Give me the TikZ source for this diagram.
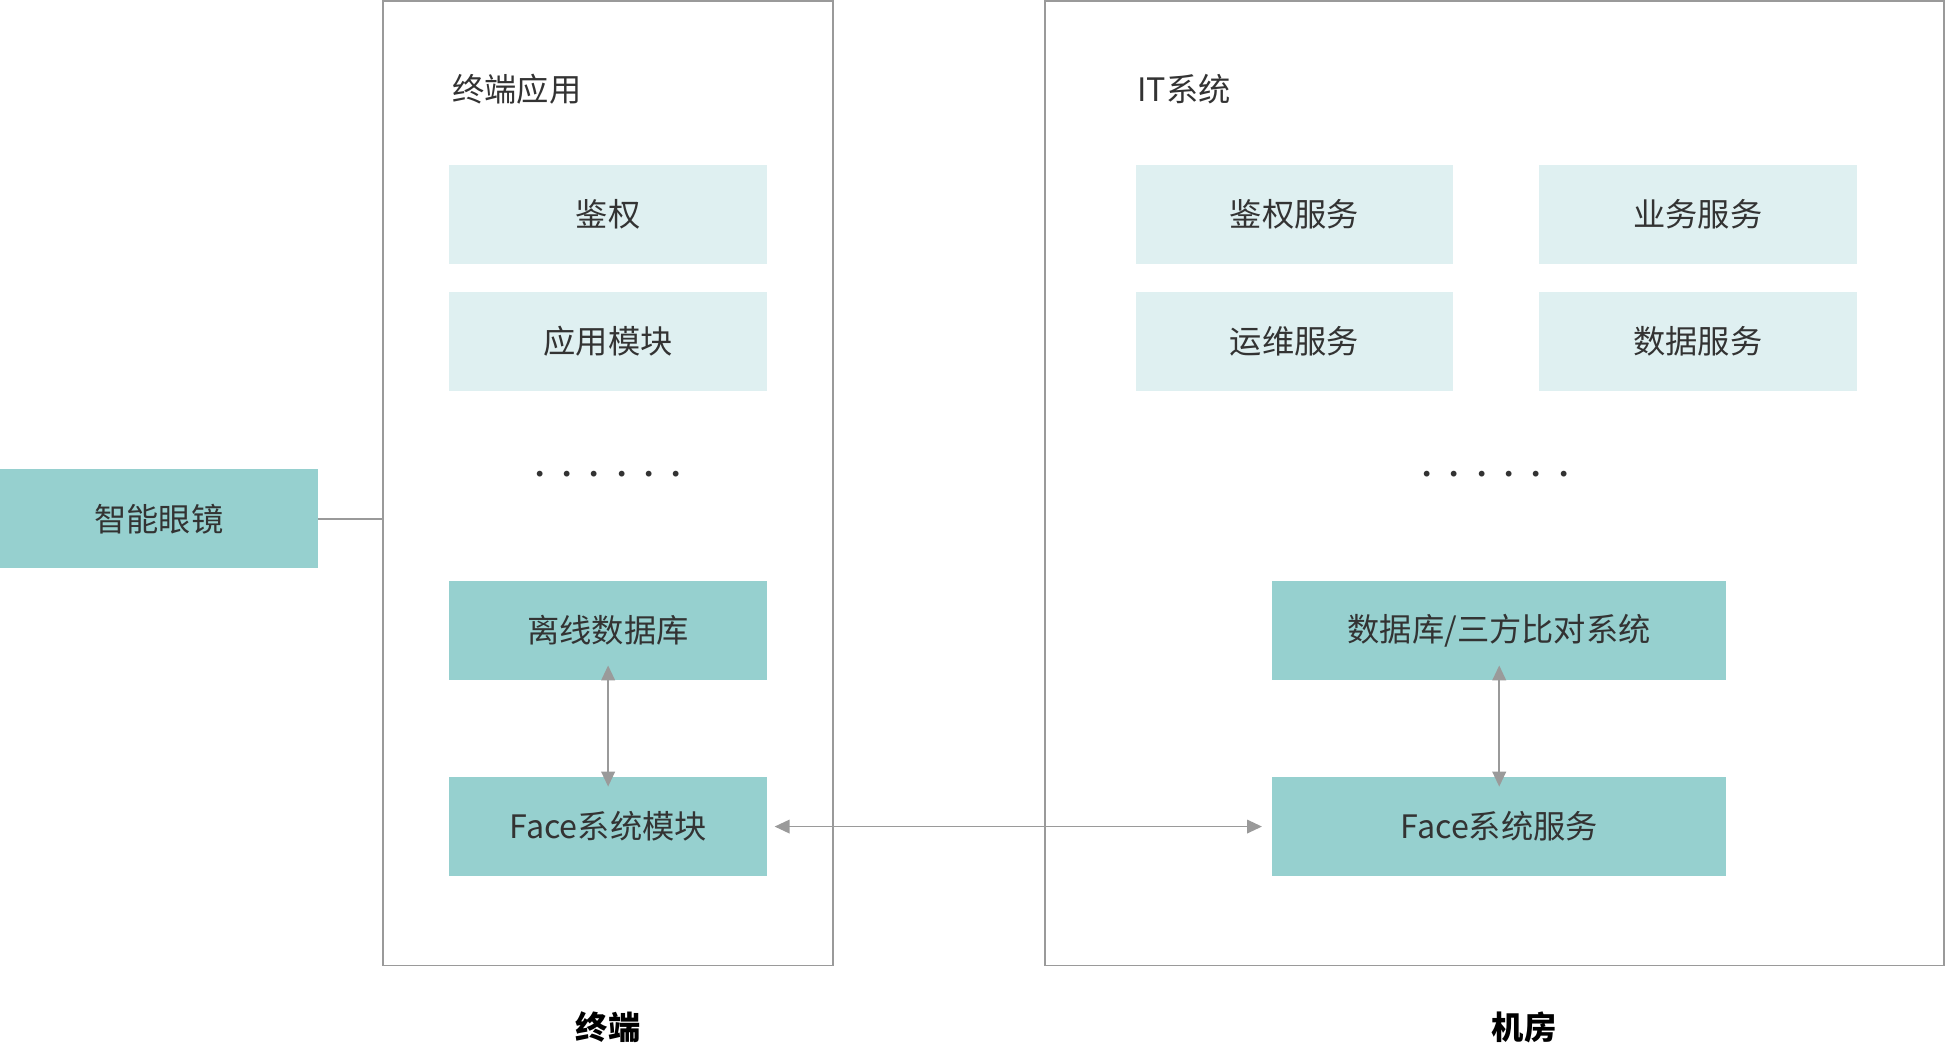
\documentclass[tikz,border=0pt]{standalone}
\usepackage{fontspec}
\setmainfont{Noto Sans CJK SC}
\usetikzlibrary{arrows.meta}
\definecolor{lite}{HTML}{DFF0F1}
\definecolor{dark}{HTML}{96D0CF}
\definecolor{frame}{HTML}{9A9A9A}
\definecolor{txt}{HTML}{333333}
\begin{document}
\begin{tikzpicture}[x=1pt,y=-1pt,
  box/.style={draw=none,minimum width=256pt,minimum height=80pt,inner sep=0pt,font=\fontsize{26}{30}\selectfont,text=txt},
  lbox/.style={box,fill=lite},
  dbox/.style={box,fill=dark},
  grp/.style={draw=frame,line width=1.2pt},
  arr/.style={draw=frame,line width=1.2pt,{Triangle[length=12pt,width=11pt]}-{Triangle[length=12pt,width=11pt]}},
  ttl/.style={anchor=west,font=\fontsize{26}{30}\selectfont,text=txt},
  dots/.style={font=\fontsize{22}{26}\selectfont,text=txt}]
\useasboundingbox[fill=white] (0,0) rectangle (1568,845);
\draw[grp] (308.5,1) rectangle (671,778);
\draw[grp] (842,1) rectangle (1566.5,778);
\node[ttl] (t1) at (361,72) {终端应用};
\node[ttl] (t2) at (913,72) {IT系统};
\node[lbox] (a1) at (490,173) {鉴权};
\node[lbox] (a2) at (490,275) {应用模块};
\node[dots] (d1) at (490,385) {······};
\node[dbox] (a3) at (490,508) {离线数据库};
\node[dbox] (a4) at (490,666) {Face系统模块};
\node[lbox] (b1) at (1043,173) {鉴权服务};
\node[lbox] (b2) at (1368,173) {业务服务};
\node[lbox] (b3) at (1043,275) {运维服务};
\node[lbox] (b4) at (1368,275) {数据服务};
\node[dots] (d2) at (1205,385) {······};
\node[dbox,minimum width=366pt] (b5) at (1208,508) {数据库/三方比对系统};
\node[dbox,minimum width=366pt] (b6) at (1208,666) {Face系统服务};
\node[dbox] (g) at (128,418) {智能眼镜};
\coordinate (gl) at (308.5,418);
\draw[draw=frame,line width=1.2pt] (g.east) -- (gl);
\draw[arr] ([yshift=12pt]a3.south) -- ([yshift=-8pt]a4.north);
\draw[arr] ([yshift=12pt]b5.south) -- ([yshift=-8pt]b6.north);
\draw[arr] ([xshift=6pt]a4.east) -- ([xshift=-8pt]b6.west);
\node[font=\bfseries\fontsize{26}{30}\selectfont] (l1) at (490,828) {终端};
\node[font=\bfseries\fontsize{26}{30}\selectfont] (l2) at (1228,828) {机房};
\end{tikzpicture}
\end{document}
